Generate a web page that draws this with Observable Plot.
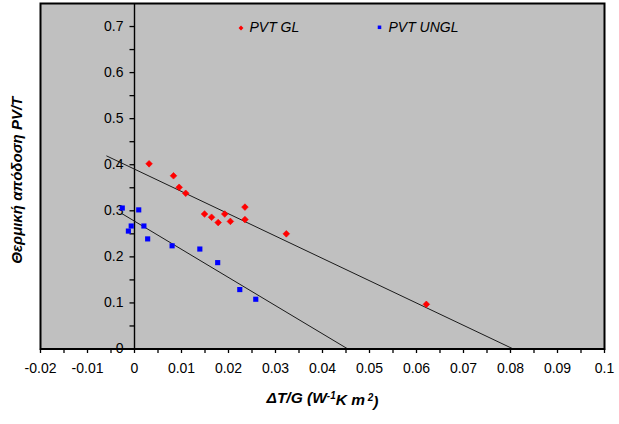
<!DOCTYPE html>
<html>
<head>
<meta charset="utf-8">
<script src="https://cdn.jsdelivr.net/npm/d3@7"></script>
<script src="https://cdn.jsdelivr.net/npm/@observablehq/plot@0.6"></script>
<style>
  html, body { margin: 0; padding: 0; background: #fff; }
  #chart { width: 619px; height: 424px; }
  svg { font-family: "Liberation Sans", Arial, sans-serif; }
</style>
</head>
<body>
<div id="chart"></div>
<script>
// ---- data ----
const glX = [0.0031, 0.0083, 0.0095, 0.0109, 0.0149, 0.0164, 0.0178, 0.0192, 0.0204, 0.0235, 0.0235, 0.0323, 0.0621];
const glY = [0.402, 0.376, 0.351, 0.338, 0.293, 0.286, 0.2745, 0.293, 0.277, 0.308, 0.281, 0.250, 0.097];
const unglX = [-0.0026, 0.0009, -0.0007, -0.0013, 0.0020, 0.0028, 0.0080, 0.0139, 0.0177, 0.0224, 0.0258];
const unglY = [0.306, 0.302, 0.267, 0.256, 0.267, 0.239, 0.224, 0.217, 0.1875, 0.129, 0.108];
// fitted trend lines (end points)
const glFitX = [-0.0059, 0.0806];
const glFitY = [0.419, 0];
const unglFitX = [-0.0027, 0.0454];
const unglFitY = [0.294, 0];
// axes
const xDomain = [-0.02, 0.1];
const yDomain = [0, 0.75];
const xMajorTicks = [-0.02, -0.01, 0, 0.01, 0.02, 0.03, 0.04, 0.05, 0.06, 0.07, 0.08, 0.09, 0.1];
const xAllTicks = [-0.02, -0.015, -0.01, -0.005, 0, 0.005, 0.01, 0.015, 0.02, 0.025, 0.03, 0.035, 0.04, 0.045, 0.05, 0.055, 0.06, 0.065, 0.07, 0.075, 0.08, 0.085, 0.09, 0.095, 0.1];
const yMajorTicks = [0, 0.1, 0.2, 0.3, 0.4, 0.5, 0.6, 0.7];
const yAllTicks = [0, 0.05, 0.1, 0.15, 0.2, 0.25, 0.3, 0.35, 0.4, 0.45, 0.5, 0.55, 0.6, 0.65, 0.7];
const seriesNames = ["PVT GL", "PVT UNGL"];
const seriesColors = ["#ff0000", "#0000ff"];
const xLabel = "ΔT/G (W⁻¹K m²)";
const yLabel = "Θερμική απόδοση PV/T";

// ---- build tables ----
const gl = glX.map((x, i) => ({x, y: glY[i]}));
const ungl = unglX.map((x, i) => ({x, y: unglY[i]}));
const glFit = glFitX.map((x, i) => ({x, y: glFitY[i]}));
const unglFit = unglFitX.map((x, i) => ({x, y: unglFitY[i]}));
const fmt = d => String(+d.toFixed(3));

const chart = Plot.plot({
  width: 619,
  height: 424,
  marginLeft: 40,
  marginRight: 15,
  marginTop: 3,
  marginBottom: 75.5,
  style: {fontFamily: "Liberation Sans, Arial, sans-serif", fontSize: "14px", color: "#000", background: "#fff"},
  x: {domain: xDomain, axis: null},
  y: {domain: yDomain, axis: null},
  marks: [
    Plot.frame({fill: "#c0c0c0", stroke: null}),
    // x axis ticks and labels
    Plot.axisX(xAllTicks, {anchor: "bottom", tickSize: 4.5, tickFormat: () => "", label: null, stroke: "#000", strokeWidth: 1.3}),
    Plot.axisX(xMajorTicks, {anchor: "bottom", tickSize: 0, tickPadding: 14, tickFormat: fmt, label: null, fill: "#000", fontSize: 14}),
    // y axis drawn at x = 0
    Plot.ruleX([0], {stroke: "#000", strokeWidth: 1.4}),
    Plot.ruleY(yAllTicks, {y: d => d, x1: () => 0, x2: () => 0, insetLeft: -4.5, insetRight: 0, stroke: "#000", strokeWidth: 1.3}),
    Plot.text(yMajorTicks, {x: () => 0, y: d => d, text: fmt, textAnchor: "end", dx: -11, fill: "#000", fontSize: 14}),
    // trend lines
    Plot.line(glFit, {x: "x", y: "y", stroke: "#1a1a1a", strokeWidth: 1}),
    Plot.line(unglFit, {x: "x", y: "y", stroke: "#1a1a1a", strokeWidth: 1}),
    // data points
    Plot.dot(gl, {x: "x", y: "y", symbol: "diamond2", r: 3, fill: seriesColors[0], stroke: seriesColors[0], strokeWidth: 0.6}),
    Plot.dot(ungl, {x: "x", y: "y", symbol: "square", r: 2.9, fill: seriesColors[1], stroke: null}),
    // legend
    Plot.dot([seriesNames[0]], {frameAnchor: "top-left", dx: 200.5, dy: 24.5, symbol: "diamond2", r: 2.2, fill: seriesColors[0], stroke: null}),
    Plot.text([seriesNames[0]], {frameAnchor: "top-left", dx: 209, dy: 24.5, text: d => d, textAnchor: "start", lineAnchor: "middle", fontStyle: "italic", fontSize: 14, fill: "#000"}),
    Plot.dot([seriesNames[1]], {frameAnchor: "top-left", dx: 339, dy: 23.8, symbol: "square", r: 2, fill: seriesColors[1], stroke: null}),
    Plot.text([seriesNames[1]], {frameAnchor: "top-left", dx: 348, dy: 24.5, text: d => d, textAnchor: "start", lineAnchor: "middle", fontStyle: "italic", fontSize: 14, fill: "#000"}),
    // axis titles
    Plot.text([xLabel], {frameAnchor: "bottom", dy: 49, text: d => d, textAnchor: "middle", lineAnchor: "middle", fontWeight: "bold", fontStyle: "italic", fontSize: 15.5, fill: "#000"}),
    Plot.text([yLabel], {frameAnchor: "left", dx: -23, dy: 4, rotate: -90, text: d => d, textAnchor: "middle", lineAnchor: "middle", fontWeight: "bold", fontStyle: "italic", fontSize: 15, fill: "#000"}),
    // border
    Plot.frame({stroke: "#000", strokeWidth: 2})
  ]
});
document.getElementById("chart").appendChild(chart);

// render the x-axis title with real superscripts
d3.select(chart).selectAll("text")
  .filter(function () { return this.textContent === xLabel; })
  .each(function () {
    const t = d3.select(this);
    t.text(null);
    t.append("tspan").text("ΔT/G (W");
    t.append("tspan").attr("dy", "-0.4em").attr("font-size", "10px").text("-1");
    t.append("tspan").attr("dy", "0.4em").text("K m");
    t.append("tspan").attr("dy", "-0.4em").attr("font-size", "10px").text(" 2");
    t.append("tspan").attr("dy", "0.4em").text(")");
  });
</script>
</body>
</html>
